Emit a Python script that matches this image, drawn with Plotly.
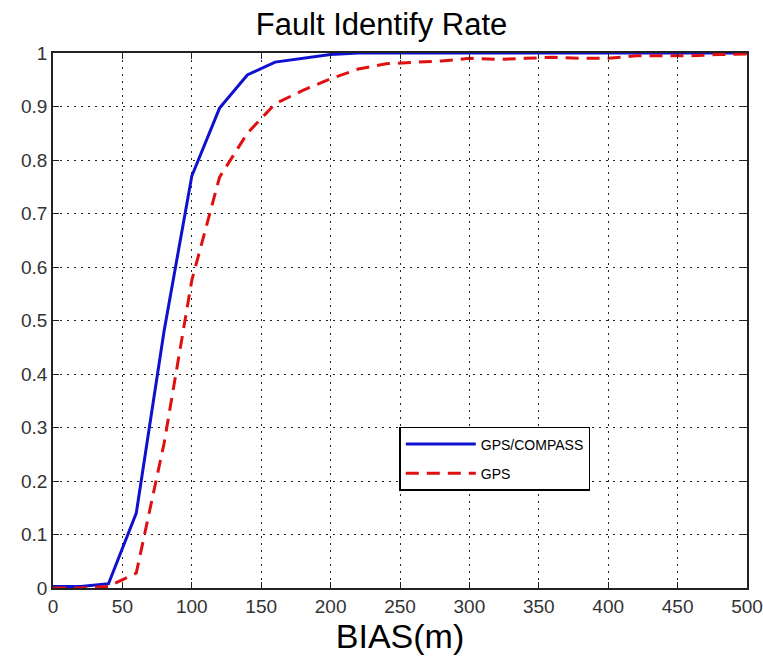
import plotly.graph_objects as go

bias = [0, 20, 40, 60, 80, 100, 120, 140, 160, 180, 200, 220, 240, 260, 280, 300,
        320, 340, 360, 380, 400, 420, 440, 460, 480, 500]
gps_compass = [0.003, 0.003, 0.008, 0.14, 0.48, 0.77, 0.897, 0.959, 0.983, 0.99, 0.997, 1.0,
               1.0, 1.0, 1.0, 1.0, 1.0, 1.0, 1.0, 1.0, 1.0, 1.0, 1.0, 1.0, 1.0, 1.0]
gps = [0.0, 0.0, 0.003, 0.028, 0.27, 0.575, 0.768, 0.85, 0.905, 0.93, 0.952, 0.97,
       0.98, 0.982, 0.985, 0.99, 0.988, 0.99, 0.992, 0.99, 0.99, 0.995, 0.995, 0.995, 0.997, 0.998]

x_ticks = [0, 50, 100, 150, 200, 250, 300, 350, 400, 450, 500]
y_ticks = [0, 0.1, 0.2, 0.3, 0.4, 0.5, 0.6, 0.7, 0.8, 0.9, 1]
y_labels = ["0", "0.1", "0.2", "0.3", "0.4", "0.5", "0.6", "0.7", "0.8", "0.9", "1"]

fig = go.Figure()
fig.add_trace(go.Scatter(x=bias, y=gps_compass, mode="lines", name="GPS/COMPASS",
                         legendgroup="a",
                         line=dict(color="#1010d0", width=3)))
fig.add_trace(go.Scatter(x=bias, y=gps, mode="lines", name="GPS",
                         legendgroup="b",
                         line=dict(color="#e01010", width=3, dash="13px,8px")))

axis_common = dict(showline=True, linecolor="#222", linewidth=1.5, mirror="ticks",
                   ticks="inside", ticklen=6, tickcolor="#222", automargin=False,
                   ticklabeloverflow="allow",
                   showgrid=True, gridcolor="#222", gridwidth=1.2, griddash="2px,5px",
                   zeroline=False, tickfont=dict(family="Arial", size=19, color="#333"))

fig.update_layout(
    width=763, height=656,
    margin=dict(l=53, r=16, t=53, b=68),
    paper_bgcolor="white", plot_bgcolor="white",
    title=dict(text="Fault Identify Rate", x=0.5, xanchor="center", y=0.98, yanchor="top",
               font=dict(family="Arial", size=31, color="black")),
    xaxis=dict(range=[0, 500], tickvals=x_ticks, **axis_common,
               title=dict(text="BIAS(m)", font=dict(family="Arial", size=34, color="black"),
                          standoff=0)),
    yaxis=dict(range=[0, 1], tickvals=y_ticks, ticktext=y_labels, **axis_common),
    legend=dict(x=0.499, y=0.301, xanchor="left", yanchor="top",
                bordercolor="black", borderwidth=1.5, bgcolor="white",
                font=dict(family="Arial", size=14, color="black"),
                itemwidth=70, tracegroupgap=8),
    showlegend=True,
)

fig.write_html("out.html")
